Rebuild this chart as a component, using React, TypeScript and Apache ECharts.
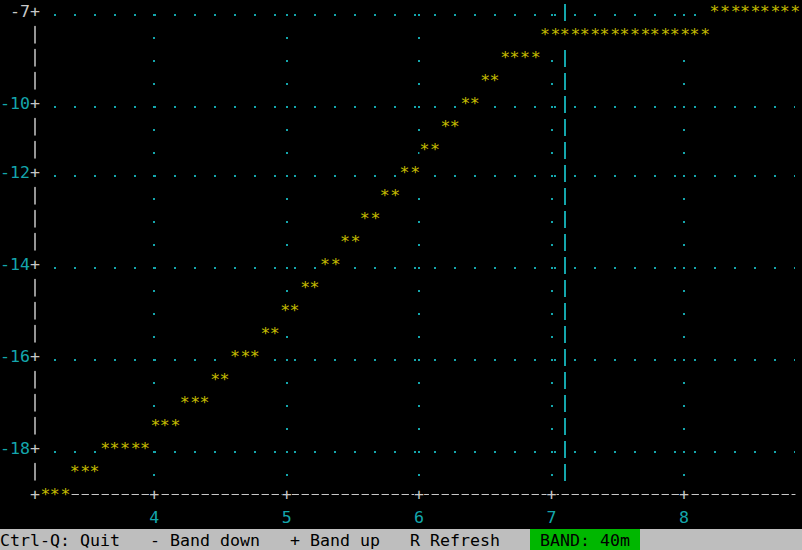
import React, { useRef, useEffect } from 'react';
import * as echarts from 'echarts';

// sweep frequency (MHz), one sample per terminal column
const FREQ_MHZ = [
  3.18, 3.25, 3.33, 3.40, 3.48, 3.55, 3.63, 3.70, 3.78, 3.86,
  3.93, 4.01, 4.08, 4.16, 4.23, 4.31, 4.38, 4.46, 4.53, 4.61,
  4.69, 4.76, 4.84, 4.91, 4.99, 5.06, 5.14, 5.21, 5.29, 5.37,
  5.44, 5.52, 5.59, 5.67, 5.74, 5.82, 5.89, 5.97, 6.04, 6.12,
  6.20, 6.27, 6.35, 6.42, 6.50, 6.57, 6.65, 6.72, 6.80, 6.88,
  6.95, 7.03, 7.10, 7.18, 7.25, 7.33, 7.40, 7.48, 7.55, 7.63,
  7.71, 7.78, 7.86, 7.93, 8.01, 8.08, 8.16, 8.23, 8.31, 8.39,
  8.46, 8.54, 8.61, 8.69, 8.76, 8.84,
];

// level (dB), as quantised by the terminal rows
const LEVEL_DB = [
  -19.63, -19.63, -19.63, -19.05, -19.05, -19.05, -18.47, -18.47, -18.47, -18.47,
  -18.47, -17.89, -17.89, -17.89, -17.31, -17.31, -17.31, -16.73, -16.73, -16.15,
  -16.15, -16.15, -15.57, -15.57, -14.99, -14.99, -14.41, -14.41, -13.83, -13.83,
  -13.25, -13.25, -12.67, -12.67, -12.09, -12.09, -11.51, -11.51, -10.93, -10.93,
  -10.35, -10.35, -9.77, -9.77, -9.19, -9.19, -8.61, -8.61, -8.61, -8.61,
  -8.03, -8.03, -8.03, -8.03, -8.03, -8.03, -8.03, -8.03, -8.03, -8.03,
  -8.03, -8.03, -8.03, -8.03, -8.03, -8.03, -8.03, -7.45, -7.45, -7.45,
  -7.45, -7.45, -7.45, -7.45, -7.45, -7.45,
];

const X_TICKS = [4, 5, 6, 7, 8];
// labelled rows; the terminal prints them rounded
const Y_TICKS = [-7.45, -9.77, -11.51, -13.83, -16.15, -18.47];
const MARKER_MHZ = 7.1;
const KEY_HINTS = ['Ctrl-Q: Quit', '- Band down', '+ Band up', 'R Refresh'];
const BAND = '40m';

const X_MIN = 3.1;
const X_MAX = 8.838;
const Y_MIN = -19.63;
const Y_MAX = -7.17;
const MARKER_END = -19.34;
// '.' sits on the baseline, a bit under the middle of its row
const DOT_DROP = 0.1;

const CELL_W = 10;
const CELL_H = 23;
const FONT_FAMILY = '"DejaVu Sans Mono", monospace';
const FONT_SIZE = 16.6;
const FONT = `${FONT_SIZE}px ${FONT_FAMILY}`;
const GREY = '#c8c8c8';
const CYAN = '#14a6ac';
const YELLOW = '#c4bc00';
const BAR_GREY = '#bebebe';
const BAR_GREEN = '#00b700';

const cellText = (color: string) => ({
  color,
  fontFamily: FONT_FAMILY,
  fontSize: FONT_SIZE,
  lineHeight: CELL_H,
});

const plusCell = {
  ...cellText(GREY),
  backgroundColor: '#000',
  width: CELL_W,
  height: CELL_H,
  align: 'center',
};

export default function App() {
  const chartRef = useRef<HTMLDivElement>(null);

  useEffect(() => {
    if (!chartRef.current) return;
    const chart = echarts.init(chartRef.current, null, { renderer: 'svg' });

    const points = FREQ_MHZ.map((f, i) => [f, LEVEL_DB[i]]);

    // key hints are laid out like the terminal does: three blanks between them
    let col = 0;
    const hints: any[] = KEY_HINTS.map((h) => {
      const el = {
        type: 'text',
        x: col * CELL_W,
        y: 540,
        silent: true,
        style: { text: h, font: FONT, fill: '#000', verticalAlign: 'middle' },
      };
      col += h.length + 3;
      return el;
    });

    chart.setOption({
      animation: false,
      backgroundColor: '#000',
      grid: { left: 35, right: 7, top: 0, bottom: 56, outerBoundsMode: 'none' },
      xAxis: {
        type: 'value',
        min: X_MIN,
        max: X_MAX,
        axisLine: {
          onZero: false,
          lineStyle: { color: GREY, width: 1.2, type: [6.5, 3.5], dashOffset: 3.25 },
        },
        axisTick: { show: false, customValues: X_TICKS },
        splitLine: {
          show: true,
          lineStyle: { color: CYAN, width: 2, type: [2, 21], dashOffset: 9 },
        },
        axisLabel: {
          customValues: X_TICKS,
          margin: -11.5,
          formatter: (v: number) => `{p|+}\n{n|${Math.round(v)}}`,
          rich: { p: plusCell, n: cellText(CYAN) },
        },
      },
      yAxis: {
        type: 'value',
        min: Y_MIN,
        max: Y_MAX,
        axisLine: {
          show: true,
          lineStyle: { color: GREY, width: 1.5, type: [16.6, 6.4], dashOffset: 9.3 },
        },
        axisTick: { show: false, customValues: Y_TICKS.map((v) => v - DOT_DROP) },
        splitLine: {
          show: true,
          lineStyle: { color: CYAN, width: 2, type: [2, 18], dashOffset: 1 },
        },
        axisLabel: {
          customValues: [...Y_TICKS, Y_MIN],
          margin: -5,
          formatter: (v: number) => {
            if (v <= Y_MIN) return '{p|+}';
            const style = v === Y_TICKS[0] ? 'top' : 'n';
            return `{${style}|${Math.round(v)}}{p|+}`;
          },
          rich: { p: plusCell, n: cellText(CYAN), top: cellText(GREY) },
        },
      },
      series: [
        {
          type: 'custom',
          z: 3,
          clip: false,
          data: points,
          encode: { x: 0, y: 1 },
          renderItem: (_params: any, api: any) => {
            const [x, y] = api.coord([api.value(0), api.value(1)]);
            return {
              type: 'group',
              children: [
                {
                  type: 'rect',
                  shape: { x: x - CELL_W / 2, y: y - CELL_H / 2, width: CELL_W, height: CELL_H },
                  style: { fill: '#000' },
                },
                {
                  type: 'text',
                  x,
                  y,
                  style: { text: '*', fill: YELLOW, font: FONT, align: 'center', verticalAlign: 'middle' },
                },
              ],
            };
          },
          markLine: {
            silent: true,
            z: 1,
            symbol: ['none', 'none'],
            label: { show: false },
            lineStyle: { color: CYAN, width: 2, type: [17, 6], dashOffset: 19 },
            data: [[{ coord: [MARKER_MHZ, Y_MAX] }, { coord: [MARKER_MHZ, MARKER_END] }]],
          },
        },
      ],
      graphic: [
        {
          type: 'rect',
          silent: true,
          shape: { x: 0, y: 529, width: 802, height: 21 },
          style: { fill: BAR_GREY },
        },
        {
          type: 'rect',
          silent: true,
          shape: { x: col * CELL_W, y: 529, width: (BAND.length + 8) * CELL_W, height: 21 },
          style: { fill: BAR_GREEN },
        },
        ...hints,
        {
          type: 'text',
          silent: true,
          x: (col + 1) * CELL_W,
          y: 540,
          style: { text: `BAND: ${BAND}`, font: FONT, fill: '#000', verticalAlign: 'middle' },
        },
      ],
    });

    return () => chart.dispose();
  }, []);

  return (
    <div
      ref={chartRef}
      style={{ position: 'fixed', left: 0, top: 0, width: 802, height: 550, background: '#000' }}
    />
  );
}
